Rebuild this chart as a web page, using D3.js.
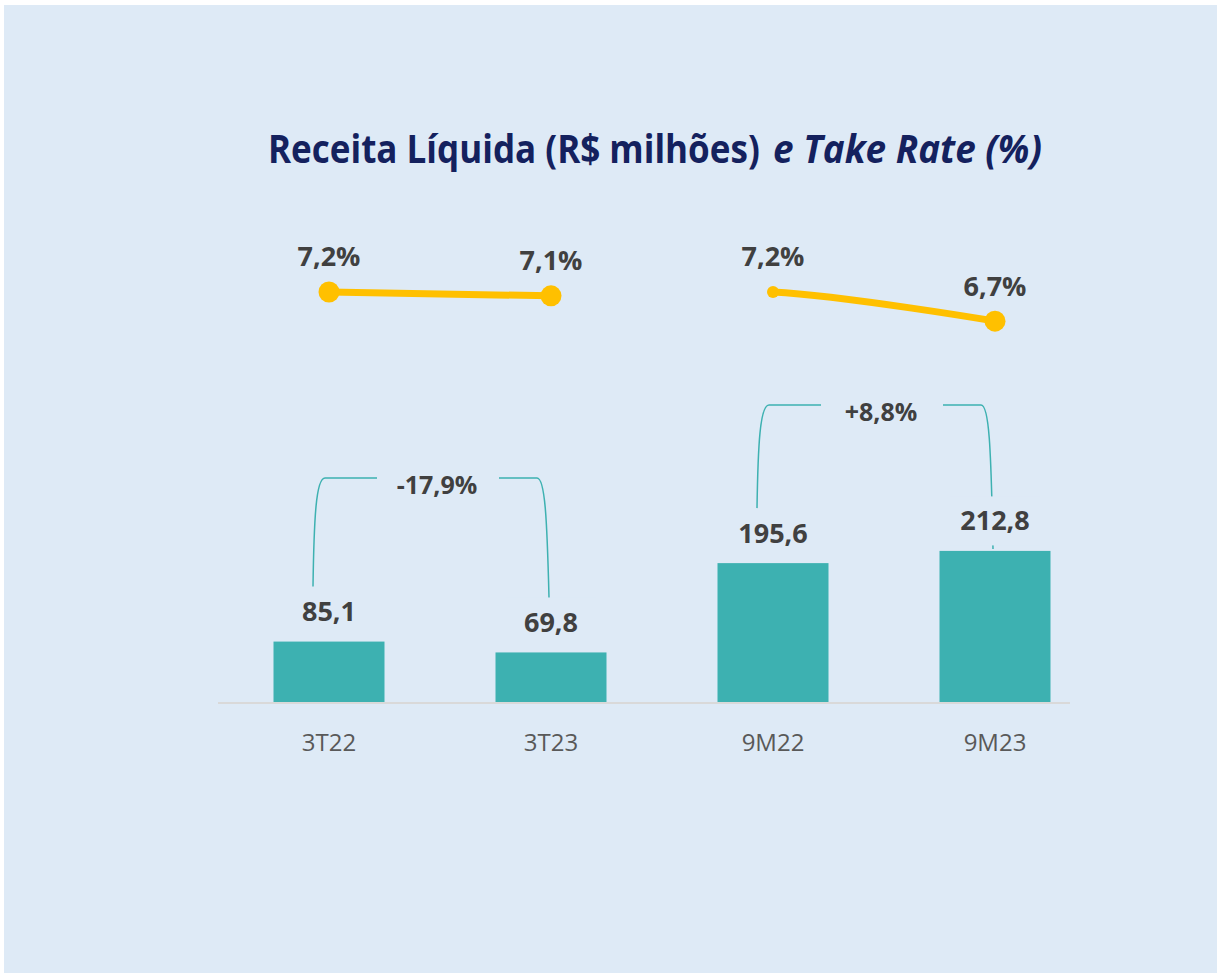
<!DOCTYPE html>
<html>
<head>
<meta charset="utf-8">
<script src="https://cdn.jsdelivr.net/npm/d3@7"></script>
<style>
  html, body { margin: 0; padding: 0; background: #ffffff; }
  svg { display: block; }
</style>
</head>
<body>
<svg id="chart" width="1217" height="973"></svg>
<script>
// ---- data ----
const categories = ["3T22", "3T23", "9M22", "9M23"];
const groups = ["3T", "3T", "9M", "9M"];
const revenue = [85.1, 69.8, 195.6, 212.8];
const takeRate = [7.20, 7.13, 7.20, 6.67];
const markerSize = ["big", "big", "small", "big"];
const variationLabels = ["-17,9%", "+8,8%"];
const variationPairs = [[0, 1], [2, 3]];
const titleParts = ["Receita Líquida (R$ milhões)", "e Take Rate (%)"];

// ---- layout ----
const W = 1217, H = 973;
const bg = "#DEEAF6";
const barColor = "#3DB1B1";
const lineColor = "#FFC000";
const labelColor = "#404040";
const baseY = 702;
const bracketTops = [478, 405];
const rightLegToBar = [false, true];

const svg = d3.select("#chart");
svg.append("rect").attr("x", 4).attr("y", 5).attr("width", W - 4).attr("height", H - 5).attr("fill", bg);

const x = d3.scaleBand().domain(categories).range([218, 1106]).paddingInner(0.5).paddingOuter(0.25);
const y = d3.scaleLinear().domain([0, 300]).range([baseY, baseY - 213]);
const yr = d3.scaleLinear().domain([6, 8]).range([358, 248]);
const cx = c => x(c) + x.bandwidth() / 2;
const fmt = v => d3.format(".1f")(v).replace(".", ",");

// title (two parts: bold + bold italic), horizontally condensed to the reference width
const titleSpecs = [
  { x: 268, len: 492, italic: false },
  { x: 773, len: 269, italic: true }
];
titleParts.forEach((t, k) => {
  const s = titleSpecs[k];
  const g = svg.append("g");
  const txt = g.append("text")
    .attr("x", 0).attr("y", 0)
    .attr("font-family", "'Open Sans', sans-serif")
    .attr("font-weight", "bold")
    .attr("font-style", s.italic ? "italic" : "normal")
    .attr("font-size", 39)
    .attr("fill", "#14215E")
    .text(t);
  const natural = txt.node().getComputedTextLength();
  g.attr("transform", `translate(${s.x},163) scale(${s.len / natural},1)`);
});

// axis line
svg.append("line").attr("x1", 218).attr("x2", 1070).attr("y1", baseY + 1).attr("y2", baseY + 1)
  .attr("stroke", "#D9D9D9").attr("stroke-width", 2);

// bars
svg.append("g").selectAll("rect").data(categories).join("rect")
  .attr("x", c => x(c))
  .attr("y", (c, i) => y(revenue[i]))
  .attr("width", x.bandwidth())
  .attr("height", (c, i) => baseY - y(revenue[i]))
  .attr("fill", barColor);

// category labels
const xAxis = d3.axisBottom(x).tickSize(0).tickPadding(0);
const gx = svg.append("g").attr("transform", `translate(0, ${baseY})`).call(xAxis);
gx.select(".domain").remove();
gx.selectAll("text")
  .attr("y", 41).attr("dy", "0.35em")
  .attr("font-family", "'Open Sans', sans-serif")
  .attr("font-size", 24)
  .attr("fill", "#595959");

// brackets
const bracketG = svg.append("g");
variationPairs.forEach(([a, b], k) => {
  const xa = cx(categories[a]), xb = cx(categories[b]);
  const top = bracketTops[k];
  const mid = (xa + xb) / 2;
  const gapL = mid - 63, gapR = mid + 59;
  const la = y(revenue[a]) - 30 - 25;
  const lb = rightLegToBar[k] ? y(revenue[b]) - 2 : y(revenue[b]) - 30 - 25;
  const pathL = `M${xa - 16},${la} C${xa - 15},${top + 40} ${xa - 13},${top} ${xa - 4},${top} L${gapL},${top}`;
  const pathR = `M${gapR},${top} L${xb - 14},${top} C${xb - 6},${top} ${xb - 4},${top + 40} ${xb - 2},${lb}`;
  bracketG.append("path").attr("d", pathL).attr("fill", "none").attr("stroke", barColor).attr("stroke-width", 1.5);
  bracketG.append("path").attr("d", pathR).attr("fill", "none").attr("stroke", barColor).attr("stroke-width", 1.5);
  bracketG.append("text")
    .attr("x", mid - 3).attr("y", top + 7).attr("dy", "0.35em")
    .attr("text-anchor", "middle")
    .attr("font-family", "'Open Sans', sans-serif")
    .attr("font-weight", "bold").attr("font-size", 25)
    .attr("fill", labelColor)
    .text(variationLabels[k]);
});

// bar value labels with background boxes
const vl = svg.append("g");
categories.forEach((c, i) => {
  const ly = y(revenue[i]) - 30;
  vl.append("rect").attr("x", cx(c) - 45).attr("y", ly - 24.5).attr("width", 90).attr("height", 49).attr("fill", bg);
  vl.append("text")
    .attr("x", cx(c)).attr("y", ly).attr("dy", "0.35em")
    .attr("text-anchor", "middle")
    .attr("font-family", "'Open Sans', sans-serif")
    .attr("font-weight", "bold").attr("font-size", 27)
    .attr("fill", labelColor)
    .text(fmt(revenue[i]));
});

// take rate lines (smoothed; neighbouring point shapes the curve, clipped to its own period)
const pts = categories.map((c, i) => ({ c, g: groups[i], v: takeRate[i], i }));
const line = d3.line().x(d => cx(d.c)).y(d => yr(d.v)).curve(d3.curveCatmullRom.alpha(0.5));
const defs = svg.append("defs");
const lg = svg.append("g");
const grouped = Array.from(d3.group(pts, d => d.g).values());
grouped.forEach((arr, k) => {
  const first = arr[0].i, last = arr[arr.length - 1].i;
  const ext = pts.slice(Math.max(0, first - 1), Math.min(pts.length, last + 2));
  const cid = "clip" + k;
  defs.append("clipPath").attr("id", cid).append("rect")
    .attr("x", cx(arr[0].c)).attr("y", 0)
    .attr("width", cx(arr[arr.length - 1].c) - cx(arr[0].c)).attr("height", H);
  const useExt = k === 1 ? ext : arr;
  lg.append("path").attr("d", line(useExt)).attr("fill", "none")
    .attr("clip-path", `url(#${cid})`)
    .attr("stroke", lineColor).attr("stroke-width", 7);
});
lg.selectAll("circle").data(pts).join("circle")
  .attr("cx", d => cx(d.c)).attr("cy", d => yr(d.v))
  .attr("r", d => markerSize[d.i] === "big" ? 10.5 : 6)
  .attr("fill", lineColor);
lg.selectAll("text").data(pts).join("text")
  .attr("x", d => cx(d.c)).attr("y", d => yr(d.v) - 35).attr("dy", "0.35em")
  .attr("text-anchor", "middle")
  .attr("font-family", "'Open Sans', sans-serif")
  .attr("font-weight", "bold").attr("font-size", 27)
  .attr("fill", labelColor)
  .text(d => fmt(d.v) + "%");
</script>
</body>
</html>
